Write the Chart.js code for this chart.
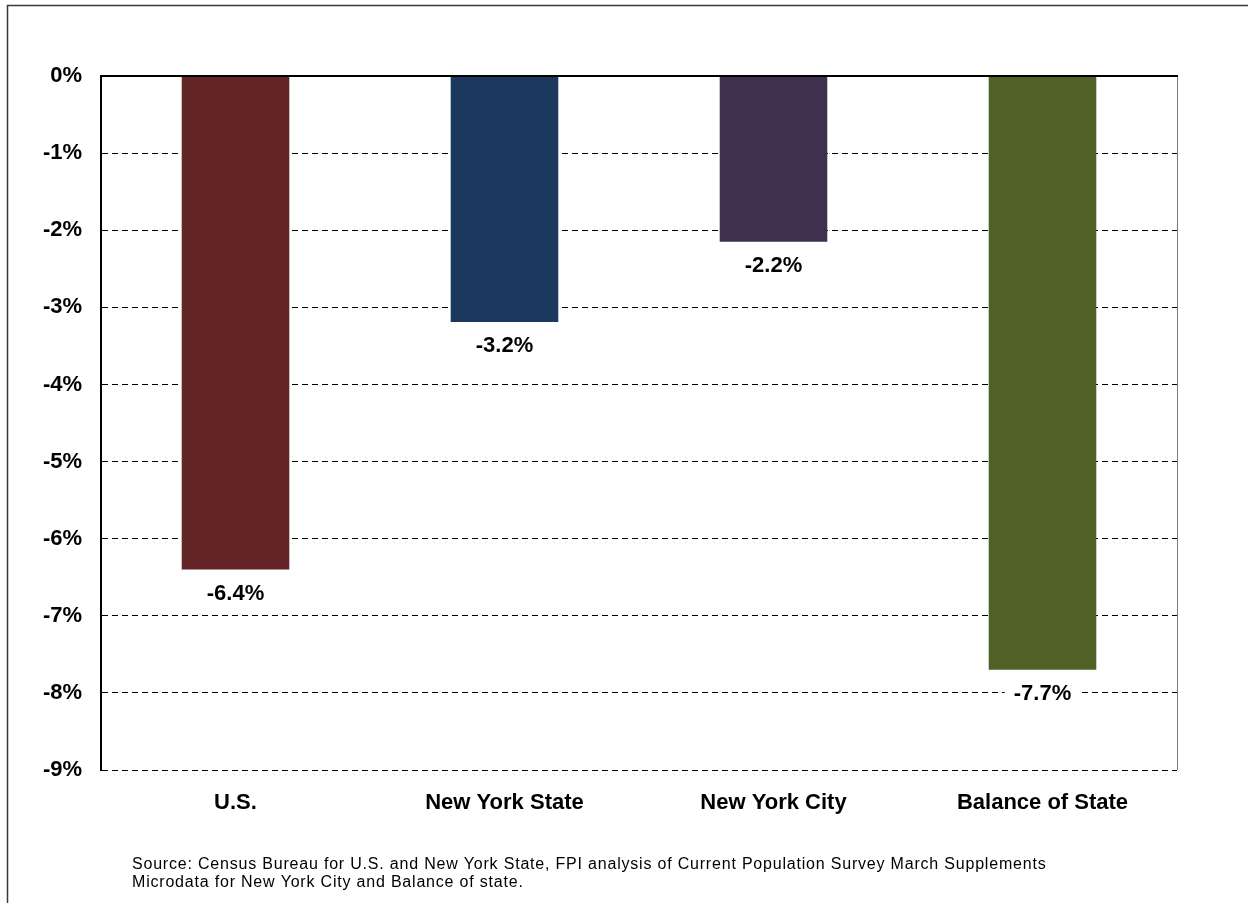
<!DOCTYPE html>
<html>
<head>
<meta charset="utf-8">
<script src="https://cdn.jsdelivr.net/npm/chart.js@4"></script>
<style>
  body { margin: 0; background: #fff; }
  canvas { display: block; }
</style>
</head>
<body>
<canvas id="myChart" width="1248" height="903"></canvas>
<script>
const categories = ['U.S.', 'New York State', 'New York City', 'Balance of State'];
const changes = [-6.4, -3.19, -2.15, -7.7];
const changeLabels = ['-6.4%', '-3.2%', '-2.2%', '-7.7%'];
const barColors = ['#632425', '#1b385e', '#40304f', '#506128'];
const sourceLines = [
  'Source: Census Bureau for U.S. and New York State, FPI analysis of Current Population Survey March Supplements',
  'Microdata for New York City and Balance of state.',
];

const boldFont = { family: 'Arial, "Liberation Sans", sans-serif', size: 22, weight: 'bold' };

// frame, plot borders, bar labels and source note
const extrasPlugin = {
  id: 'extras',
  beforeDraw(chart) {
    const ctx = chart.ctx;
    ctx.save();
    ctx.strokeStyle = '#3a3a3a';
    ctx.lineWidth = 1.5;
    ctx.beginPath();
    ctx.moveTo(7.5, 903);
    ctx.lineTo(7.5, 5.5);
    ctx.lineTo(1248, 5.5);
    ctx.stroke();
    ctx.restore();
  },
  afterDatasetsDraw(chart) {
    const ctx = chart.ctx;
    const area = chart.chartArea;
    ctx.save();
    // right edge of plot
    ctx.strokeStyle = '#7f7f7f';
    ctx.lineWidth = 1;
    ctx.beginPath();
    ctx.moveTo(area.right + 0.5, area.top);
    ctx.lineTo(area.right + 0.5, area.bottom);
    ctx.stroke();
    // zero line
    ctx.strokeStyle = '#000';
    ctx.lineWidth = 2;
    ctx.beginPath();
    ctx.moveTo(area.left - 1, area.top);
    ctx.lineTo(area.right + 1, area.top);
    ctx.stroke();

    // value labels under each bar
    ctx.font = 'bold 22px Arial, "Liberation Sans", sans-serif';
    ctx.textAlign = 'center';
    ctx.textBaseline = 'middle';
    const meta = chart.getDatasetMeta(0);
    meta.data.forEach((bar, i) => {
      const text = changeLabels[i];
      const y = bar.y + 24;
      const w = ctx.measureText(text).width;
      ctx.fillStyle = '#fff';
      ctx.fillRect(bar.x - w / 2 - 9, y - 12, w + 18, 24);
      ctx.fillStyle = '#000';
      ctx.fillText(text, bar.x, y);
    });

    // source note
    ctx.font = '16px Arial, "Liberation Sans", sans-serif';
    ctx.letterSpacing = '0.8px';
    ctx.textAlign = 'left';
    ctx.textBaseline = 'alphabetic';
    ctx.fillStyle = '#000';
    sourceLines.forEach((line, i) => {
      ctx.fillText(line, 132, 869 + i * 18);
    });
    ctx.restore();
  },
};

new Chart(document.getElementById('myChart'), {
  type: 'bar',
  data: {
    labels: categories,
    datasets: [
      {
        data: changes,
        backgroundColor: barColors,
        borderWidth: 0,
        categoryPercentage: 1,
        barPercentage: 0.4,
      },
    ],
  },
  options: {
    responsive: false,
    animation: false,
    layout: { padding: { top: 76, right: 71, left: 0, bottom: 0 } },
    plugins: {
      legend: { display: false },
      tooltip: { enabled: false },
    },
    scales: {
      x: {
        grid: { display: false, drawTicks: false },
        border: { display: false },
        ticks: { color: '#000', font: boldFont, padding: 20 },
        afterFit: (scale) => { scale.height = 133; },
      },
      y: {
        min: -9,
        max: 0,
        ticks: {
          stepSize: 1,
          color: '#000',
          font: boldFont,
          padding: 19,
          callback: (v) => v + '%',
        },
        grid: { color: '#000', lineWidth: 1, drawTicks: false },
        border: { display: true, color: '#000', width: 2, dash: [6, 4] },
        afterFit: (scale) => { scale.width = 101; },
      },
    },
  },
  plugins: [extrasPlugin],
});
</script>
</body>
</html>
